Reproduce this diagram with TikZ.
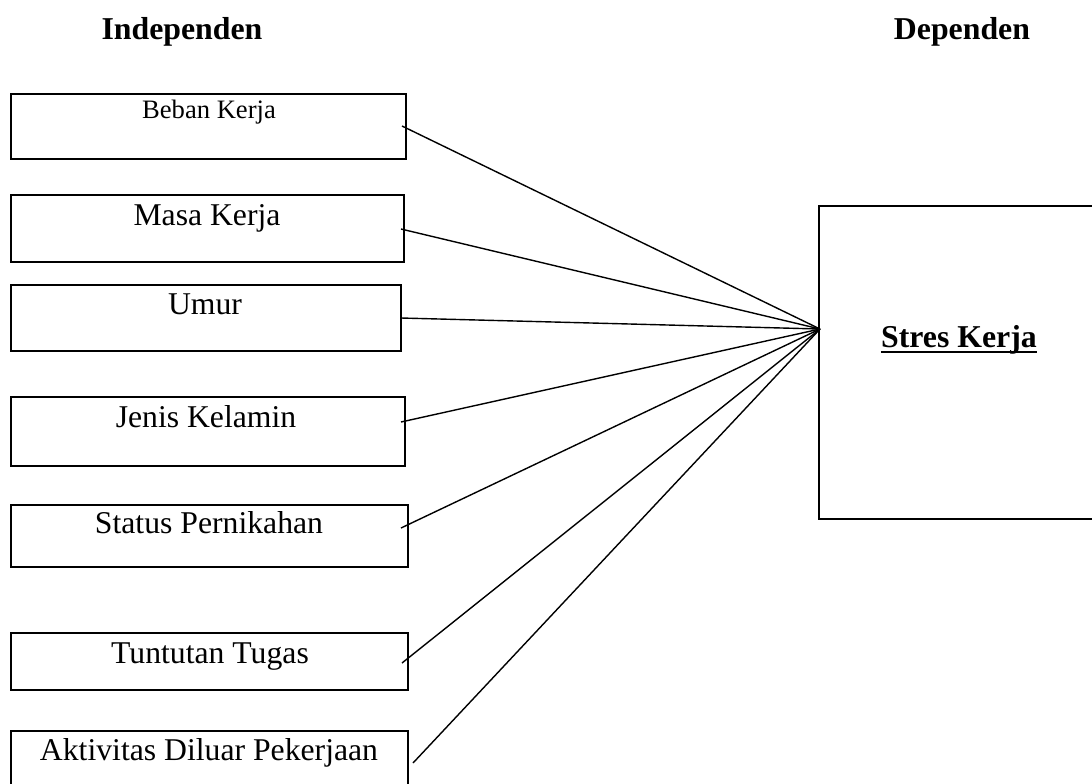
\documentclass[tikz,border=0pt]{standalone}
\usepackage{fontspec}
\setmainfont{Liberation Serif}
\usetikzlibrary{fit}
\begin{document}
\begin{tikzpicture}[x=0.5pt,y=-0.5pt,
  box/.style={draw,line width=1pt,inner sep=0pt,rectangle},
  lbl/.style={anchor=base,inner sep=0pt,font=\fontsize{15.85}{19}\selectfont},
  small/.style={anchor=base,inner sep=0pt,font=\fontsize{13.3}{16}\selectfont},
  head/.style={anchor=base,inner sep=0pt,font=\fontsize{15.9}{19}\selectfont\bfseries},
  conn/.style={line width=0.7pt}]
\clip (0,0) rectangle (1092,783);
\useasboundingbox (0,0) rectangle (1092,783);
\node[head] (hi) at (182,39) {Independen};
\node[head] (hd) at (962,39) {Dependen};
% left boxes
\node[box,fit={(10.7,94) (406,159)}] (b1) {};
\node[box,fit={(10.7,195) (404,262)}] (b2) {};
\node[box,fit={(10.7,285) (401,351)}] (b3) {};
\node[box,fit={(10.7,397) (405,466)}] (b4) {};
\node[box,fit={(10.7,505) (408,567)}] (b5) {};
\node[box,fit={(10.7,633) (408,690)}] (b6) {};
\node[box,fit={(10.7,731) (408,810)}] (b7) {};
\node[small] (t1) at (209,118) {Beban Kerja};
\node[lbl] (t2) at (207,225) {Masa Kerja};
\node[lbl] (t3) at (205,314) {Umur};
\node[lbl] (t4) at (206,427) {Jenis Kelamin};
\node[lbl] (t5) at (209,533) {Status Pernikahan};
\node[lbl] (t6) at (210,663) {Tuntutan Tugas};
\node[lbl] (t7) at (209,760) {Aktivitas Diluar Pekerjaan};
% right box
\node[box,fit={(819,206) (1110,519)}] (sk) {};
\node[head] (tsk) at (959,347) {Stres Kerja};
\draw[line width=1pt] ([yshift=-2.6pt]tsk.base west) -- ([yshift=-2.6pt]tsk.base east);
% connector points
\coordinate (s1) at (402,126);
\coordinate (s2) at (401,229);
\coordinate (s3) at (401,318);
\coordinate (s4) at (401,422);
\coordinate (s5) at (401,528);
\coordinate (s6) at (402,663);
\coordinate (s7) at (413,763);
\coordinate (conv) at (820,329);
\foreach \i in {1,...,7} {\draw[conn] (s\i) -- (conv);}
\end{tikzpicture}
\end{document}
